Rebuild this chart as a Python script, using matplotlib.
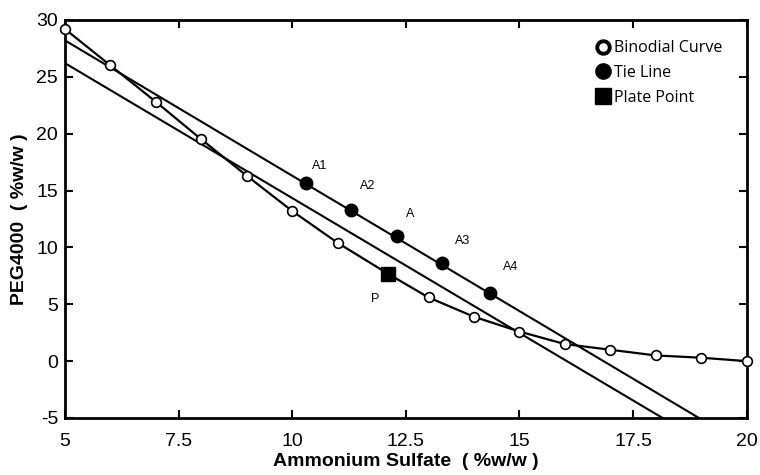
import numpy as np
import matplotlib
matplotlib.use("Agg")
import matplotlib.pyplot as plt

plt.rcParams["axes.unicode_minus"] = False

# binodial curve (open circles)
bino_x = [5, 6, 7, 8, 9, 10, 11, 13, 14, 15, 16, 17, 18, 19, 20]
bino_y = [29.2, 26.0, 22.8, 19.5, 16.3, 13.2, 10.4, 5.6, 3.9, 2.6, 1.5, 1.0, 0.5, 0.3, 0.0]

# plate point
plate_x = [12.1]
plate_y = [7.7]

# tie line points
tie_labels = ["A1", "A2", "A", "A3", "A4"]
tie_x = [10.3, 11.3, 12.3, 13.3, 14.35]
tie_y = [15.7, 13.3, 11.0, 8.6, 6.0]

# straight lines (ends)
upper_x = [5, 18.95]
upper_y = [28.2, -5]
lower_x = [5, 18.15]
lower_y = [26.2, -5]

xticks = [5, 7.5, 10, 12.5, 15, 17.5, 20]
xtick_labels = ["5", "7.5", "10", "12.5", "15", "17.5", "20"]
yticks = [-5, 0, 5, 10, 15, 20, 25, 30]

fig = plt.figure(figsize=(7.6, 4.75), dpi=100)
ax = fig.add_axes([0.0855, 0.12, 0.897, 0.838])

# binodial curve runs through the plate point
curve = sorted(zip(bino_x + plate_x, bino_y + plate_y))
ax.plot([c[0] for c in curve], [c[1] for c in curve], color="black", lw=1.6, zorder=2)
ax.plot(bino_x, bino_y, "o", ms=7, mfc="white", mec="black", mew=1.2, zorder=4, clip_on=False)

ax.plot(upper_x, upper_y, color="black", lw=1.5, zorder=2)
ax.plot(lower_x, lower_y, color="black", lw=1.5, zorder=2)

ax.plot(tie_x, tie_y, "o", ms=9, color="black", zorder=5)
ax.plot(plate_x, plate_y, "s", ms=10, color="black", zorder=5)

label_off = [(0.3, 1.5), (0.35, 2.1), (0.3, 1.9), (0.45, 2.0), (0.45, 2.3)]
for lab, x, y, (dx, dy) in zip(tie_labels, tie_x, tie_y, label_off):
    ax.text(x + dx, y + dy, lab, fontsize=9, family="Liberation Sans", ha="center", va="center")
ax.text(plate_x[0] - 0.28, plate_y[0] - 2.2, "P", fontsize=9, family="Liberation Sans",
        ha="center", va="center")

ax.set_xlim(5, 20)
ax.set_ylim(-5, 30)
ax.set_xticks(xticks)
ax.set_xticklabels(xtick_labels)
ax.set_yticks(yticks)
ax.tick_params(direction="in", length=6, width=1.5, top=True, right=True,
               labelsize=14, pad=5)
ax.tick_params(axis="x", pad=11)
for lab in ax.get_xticklabels() + ax.get_yticklabels():
    lab.set_family("Liberation Sans")
for sp in ax.spines.values():
    sp.set_linewidth(2)

ax.set_xlabel("Ammonium Sulfate  ( %w/w )", fontsize=14, fontweight="bold",
              family="Liberation Sans", labelpad=2)
ax.set_ylabel("PEG4000  ( %w/w )", fontsize=14, fontweight="bold",
              family="Liberation Sans", labelpad=6)

# legend
h1, = ax.plot([], [], "o", ms=9, mfc="white", mec="black", mew=2.8)
h2, = ax.plot([], [], "o", ms=11, color="black")
h3, = ax.plot([], [], "s", ms=11, color="black")
ax.legend([h1, h2, h3], ["Binodial Curve", "Tie Line", "Plate Point"],
          loc="upper right", bbox_to_anchor=(0.985, 0.985), frameon=False,
          handlelength=0.8, handletextpad=0.3, labelspacing=0.55,
          prop={"family": "Open Sans", "size": 11.5})

fig.savefig("out.png", dpi=100)
